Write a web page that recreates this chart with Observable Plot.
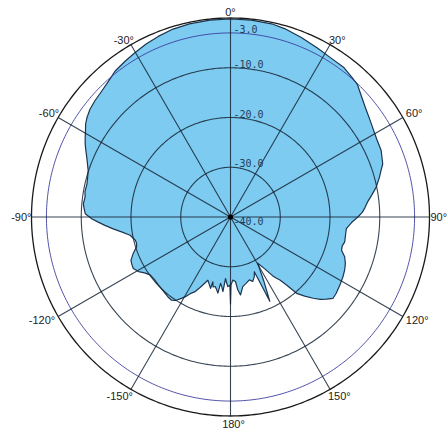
<!DOCTYPE html>
<html>
<head>
<meta charset="utf-8">
<script src="https://cdn.jsdelivr.net/npm/d3@7"></script>
<script src="https://cdn.jsdelivr.net/npm/@observablehq/plot@0.6"></script>
<style>
  html, body { margin: 0; padding: 0; background: #fff; }
</style>
</head>
<body>
<div id="chart"></div>
<script>
// Radiation pattern: angle (deg, clockwise from top) and gain (dB)
const angles = [
  -179.5, -177.8, -176.5, -175.4, -174.2, -173, -171.5, -170.6, -169, -167.6,
  -166, -164.8, -164.4, -162.5, -160.3, -158.7, -156.5, -154.4, -152.8, -150.5,
  -148.9, -146.6, -144.5, -142, -139.3, -136, -133.2, -129.5, -125.8, -123,
  -120.7, -117.9, -115.5, -113.4, -110.6, -107.6, -105.5, -103.7, -100.3, -97.8,
  -95.8, -93.8, -92, -90.7, -88.7, -86.5, -84.8, -82.2, -80, -77,
  -74.5, -71.9, -69.5, -67.4, -65.3, -63.3, -61.3, -59.3, -57.3, -55.3,
  -52.5, -49.4, -45.6, -41.9, -38.3, -34.1, -30.2, -26, -21.8, -17,
  -12, -6, 0, 6, 12, 16, 21.4, 27.2, 32.2, 37.2,
  41.1, 43.7, 46.6, 51, 55.5, 59, 62, 66.2, 70.8, 73,
  75, 78.4, 81, 83.5, 86, 88, 90, 92.5, 95.7, 99,
  102.3, 104.5, 106.7, 109.2, 112, 114.9, 118, 121.9, 125.8, 128.5,
  130.5, 132.5, 134.5, 136.8, 139.1, 140.5, 141.9, 143.2, 144.4, 146.5,
  149.6, 152.5, 155, 155.6, 156.5, 158.2, 161, 163.3, 166.8, 170,
  172.7, 174.3, 175.6, 177.9, 179.6, 180
];
const gains = [
  -26.3, -26.0, -26.8, -27.6, -24.9, -25.8, -26.5, -24.5, -25.2, -25.7,
  -25.5, -26.5, -25.1, -25.8, -26.5, -25.7, -24.5, -23.3, -22.8, -21.6,
  -20.9, -19.9, -19.5, -19.6, -19.8, -20.0, -20.1, -20.2, -20.1, -19.4,
  -18.5, -17.9, -18.0, -18.2, -19.1, -20.2, -20.4, -20.3, -19.5, -17.9,
  -16.3, -14.7, -13.2, -12.1, -10.8, -10.5, -10.3, -10.5, -10.3, -10.4,
  -10.2, -9.9, -9.3, -8.7, -8.0, -7.3, -6.7, -6.1, -5.4, -4.9,
  -4.4, -4.1, -3.8, -3.3, -2.6, -2.2, -1.8, -1.3, -0.9, -0.5,
  -0.3, -0.2, -0.2, -0.2, -0.3, -0.6, -1.2, -1.8, -2.2, -2.3,
  -2.8, -3.1, -4.0, -5.1, -5.9, -6.4, -6.7, -6.9, -7.6, -8.4,
  -9.0, -10.1, -11.2, -12.2, -12.9, -13.5, -14.4, -15.6, -16.6, -16.6,
  -16.5, -16.8, -16.7, -15.7, -15.1, -14.7, -14.4, -14.1, -13.8, -13.7,
  -14.6, -15.5, -16.7, -18.2, -19.7, -22.3, -23.9, -24.7, -25.5, -27.5,
  -29.2, -25.5, -21.3, -25.0, -28.0, -27.1, -26.3, -26.8, -26.3, -25.8,
  -24.2, -25.3, -27.0, -27.3, -26.3, -22.5
];

const angleTicks = [0, 30, 60, 90, 120, 150, 180, -150, -120, -90, -60, -30];
const angleLabels = ["0°", "30°", "60°", "90°", "120°", "150°", "180°", "-150°", "-120°", "-90°", "-60°", "-30°"];
const ringValues = [-30, -20, -10];
const refRing = -3;
const outerRing = 0;
const radialTicks = [-3, -10, -20, -30];
const radialLabels = ["-3.0", "-10.0", "-20.0", "-30.0"];
const centerTick = -40;
const centerLabel = "-40.0";

const minDb = -40;
const pattern = angles.map((a, i) => ({angle: a, gain: gains[i]}));

// polar helpers: longitude from angle (clockwise from top), latitude from dB
const lon = a => 180 - a;
const lat = db => 90 - (db - minDb);
const circle = db => d3.geoCircle().center([0, 90]).radius(db - minDb).precision(1)();

function labelStyle(a) {
  const n = ((a % 360) + 360) % 360;
  let textAnchor = "middle", lineAnchor = "middle", dx = 0, dy = 0;
  if (n === 0) { lineAnchor = "bottom"; dy = -2; }
  else if (n === 180) { lineAnchor = "top"; dy = 4; dx = 3; }
  else if (n === 30) { textAnchor = "start"; lineAnchor = "bottom"; dx = -1; dy = -1; }
  else if (n === 330) { textAnchor = "end"; lineAnchor = "bottom"; dx = 3; dy = -1; }
  else if (n === 60) { textAnchor = "start"; dx = 3; dy = -4; }
  else if (n === 300) { textAnchor = "end"; dx = 1; dy = -4; }
  else if (n === 90) { textAnchor = "start"; dx = 1; }
  else if (n === 270) { textAnchor = "end"; dx = 0; }
  else if (n === 120) { textAnchor = "start"; dx = 3; dy = 4; }
  else if (n === 240) { textAnchor = "end"; dx = -3; dy = 4; }
  else if (n === 150) { textAnchor = "start"; lineAnchor = "top"; dx = -2; dy = 3; }
  else if (n === 210) { textAnchor = "end"; lineAnchor = "top"; dx = 2; dy = 3; }
  return {textAnchor, lineAnchor, dx, dy};
}

const angleTextMarks = angleTicks.map((a, i) => Plot.text([a], {
  x: d => lon(d), y: lat(outerRing), text: () => angleLabels[i],
  fill: "#222", fontSize: 11, fontFamily: "Liberation Sans, Arial, sans-serif",
  ...labelStyle(a)
}));

const monoFont = "DejaVu Sans Mono, Liberation Mono, monospace";

const chart = Plot.plot({
  width: 447,
  height: 434,
  marginLeft: 31,
  marginRight: 18,
  marginTop: 17.5,
  marginBottom: 18.5,
  style: {background: "white", fontFamily: "Liberation Sans, Arial, sans-serif", overflow: "visible"},
  projection: {
    type: "azimuthal-equidistant",
    rotate: [0, -90],
    domain: d3.geoCircle().center([0, 90]).radius(outerRing - minDb)()
  },
  marks: [
    Plot.line(pattern, {
      x: d => lon(d.angle), y: d => lat(d.gain), curve: "linear-closed",
      fill: "#7ecbf1", stroke: "#1b3550", strokeWidth: 1.2
    }),
    Plot.geo(ringValues, {geometry: circle, fill: "none", stroke: "#152535", strokeOpacity: 0.85, strokeWidth: 1.1}),
    Plot.geo([refRing], {geometry: circle, fill: "none", stroke: "#35359a", strokeOpacity: 0.85, strokeWidth: 1}),
    Plot.geo([outerRing], {geometry: circle, fill: "none", stroke: "#1a1a1a", strokeWidth: 1.3}),
    Plot.link(angleTicks, {
      x1: d => lon(d), y1: lat(minDb), x2: d => lon(d), y2: lat(outerRing),
      stroke: "#152535", strokeOpacity: 0.85, strokeWidth: 1.1
    }),
    Plot.dot([centerTick], {x: 0, y: d => lat(d), r: 2.6, fill: "#000", stroke: "none"}),
    Plot.text(radialTicks, {
      x: 180, y: d => lat(d), text: (d, i) => radialLabels[i],
      textAnchor: "start", lineAnchor: "bottom", dx: 3, dy: 0,
      fill: "#233d58", fontSize: 10, fontFamily: monoFont
    }),
    Plot.text([centerTick], {
      x: 180, y: d => lat(d), text: () => centerLabel,
      textAnchor: "start", lineAnchor: "top", dx: 3, dy: 1,
      fill: "#233d58", fontSize: 10, fontFamily: monoFont
    }),
    ...angleTextMarks
  ]
});
document.getElementById("chart").appendChild(chart);
</script>
</body>
</html>
